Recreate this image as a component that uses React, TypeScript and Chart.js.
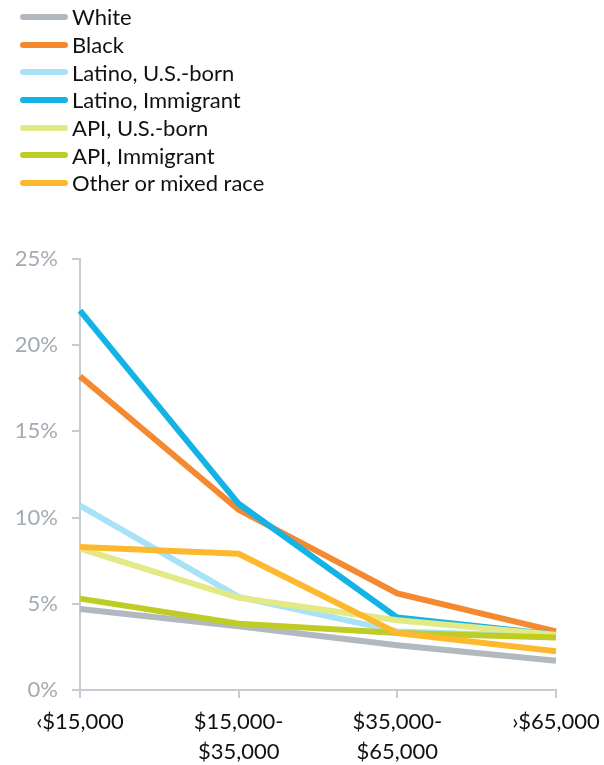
import React, { useEffect, useRef } from "react";
import { Chart, registerables } from "chart.js";

Chart.register(...registerables);

const categories: string[][] = [["\u2039$15,000"], ["$15,000-", "$35,000"], ["$35,000-", "$65,000"], ["\u203A$65,000"]];
const seriesNames = ["White", "Black", "Latino, U.S.-born", "Latino, Immigrant", "API, U.S.-born", "API, Immigrant", "Other or mixed race"];
const white = [4.7, 3.7, 2.6, 1.7];
const black = [18.2, 10.45, 5.6, 3.4];
const latinoUS = [10.7, 5.4, 3.4, 3.1];
const latinoImm = [22.0, 10.8, 4.2, 3.2];
const apiUS = [8.2, 5.35, 4.05, 3.2];
const apiImm = [5.3, 3.85, 3.3, 3.05];
const other = [8.3, 7.9, 3.3, 2.25];
const seriesValues = [white, black, latinoUS, latinoImm, apiUS, apiImm, other];
const colors = ["#b1b8be", "#f4892f", "#a8e2f7", "#13b3e6", "#e3e985", "#bfcc24", "#fdb82e"];
const yTicks = [0, 5, 10, 15, 20, 25];

const FONT = "Lato, 'Open Sans', sans-serif";

export default function App() {
  const ref = useRef<HTMLCanvasElement | null>(null);
  useEffect(() => {
    if (!ref.current) return;
    const chart = new Chart(ref.current, {
      type: "line",
      data: {
        labels: categories,
        datasets: seriesNames.map((name, i) => ({
          label: name,
          data: seriesValues[i],
          borderColor: colors[i],
          backgroundColor: colors[i],
          borderWidth: 6,
          pointRadius: 0,
          tension: 0,
          fill: false,
          order: seriesNames.length - i,
        })),
      },
      options: {
        animation: false,
        responsive: false,
        layout: { padding: { top: 259, right: 48, left: 0, bottom: 0 } },
        plugins: { legend: { display: false }, tooltip: { enabled: false } },
        scales: {
          x: {
            type: "category",
            offset: false,
            grid: { display: true, drawOnChartArea: false, drawTicks: true, tickLength: 8, color: "#c5ccd3", lineWidth: 2 },
            border: { display: true, color: "#c5ccd3", width: 2 },
            ticks: { color: "#111", font: { family: FONT, size: 22, lineHeight: 1.35 }, maxRotation: 0, autoSkip: false, padding: 9 },
            afterFit: (s: any) => { s.height = 75; s.paddingRight = 0; s.paddingLeft = 0; },
          },
          y: {
            min: 0,
            max: 25,
            afterBuildTicks: (s: any) => { s.ticks = yTicks.map((v) => ({ value: v })); },
            grid: { display: true, drawOnChartArea: false, drawTicks: true, tickLength: 8, color: "#c5ccd3", lineWidth: 2 },
            border: { display: true, color: "#c5ccd3", width: 2 },
            ticks: { color: "#a3abb2", font: { family: FONT, size: 22 }, padding: 14, callback: (v: any) => v + "%" },
            afterFit: (s: any) => { s.width = 80; },
          },
        },
      },
    });
    return () => chart.destroy();
  }, []);

  return (
    <div style={{ position: "absolute", left: 0, top: 0, width: 604, height: 765, background: "#fff", overflow: "hidden" }}>
      <canvas ref={ref} width={604} height={765} style={{ position: "absolute", left: 0, top: 0 }} />
      <div style={{ position: "absolute", left: 0, top: 3 }}>
        {seriesNames.map((n, i) => (
          <div key={n} style={{ display: "flex", alignItems: "center", height: 27.7 }}>
            <div style={{ marginLeft: 20, width: 48, height: 6, borderRadius: 3, background: colors[i] }} />
            <span style={{ marginLeft: 4, fontFamily: FONT, fontSize: 22, color: "#111", whiteSpace: "nowrap" }}>{n}</span>
          </div>
        ))}
      </div>
    </div>
  );
}
